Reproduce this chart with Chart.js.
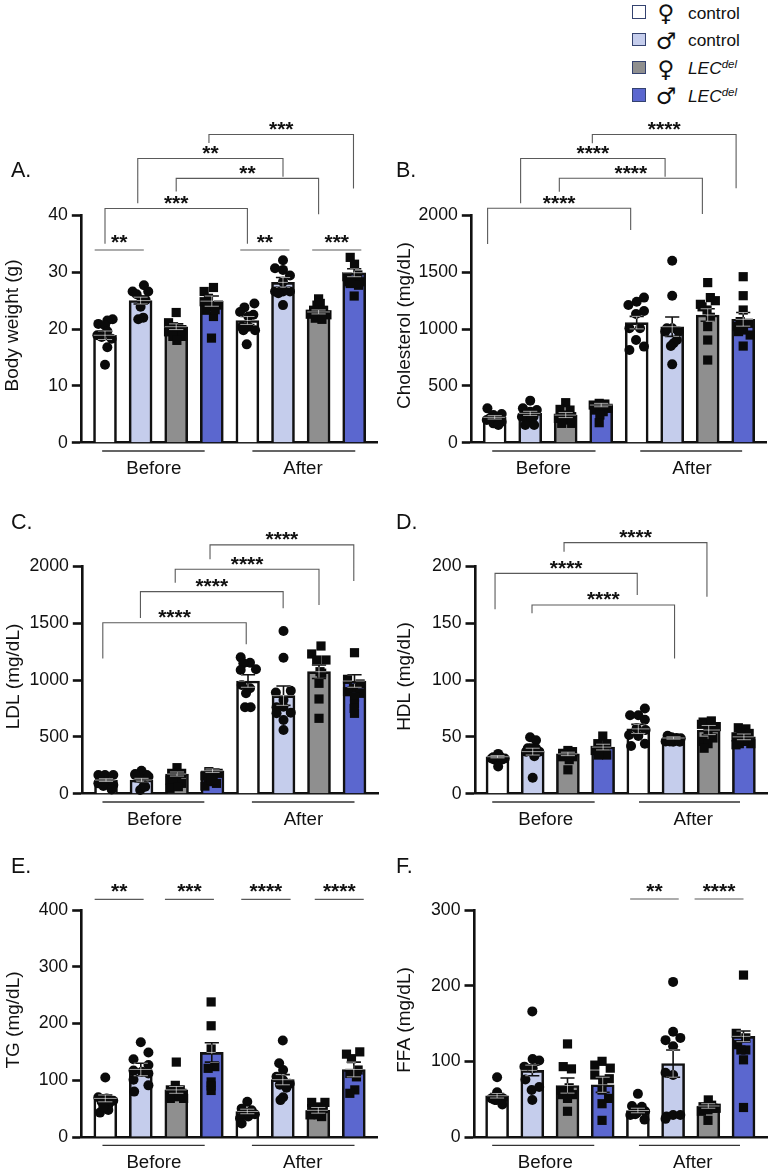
<!DOCTYPE html>
<html>
<head>
<meta charset="utf-8">
<script src="https://cdn.jsdelivr.net/npm/chart.js@4"></script>
<style>
  body { margin: 0; background: #fff; font-family: "Liberation Sans", Arial, sans-serif; color: #111; }
  #page { position: relative; width: 774px; height: 1175px; overflow: hidden; }
  canvas { position: absolute; }
  .tag { position: absolute; font-size: 21.5px; line-height: 24px; }
  .sw { position: absolute; left: 632px; width: 11.5px; height: 11.5px; border: 1.7px solid #34426f; }
  .sym { position: absolute; left: 652px; width: 28px; text-align: center; font-family: "DejaVu Sans"; font-size: 23px; line-height: 26px; }
  .lab { position: absolute; left: 688px; font-size: 17.3px; line-height: 20px; }
  .lab sup { font-size: 11.5px; line-height: 0; vertical-align: 6px; }
</style>
</head>
<body>
<div id="page"></div>
<script>
// ====== DATA ======
const groupLabels = ['Before', 'After'];
const barColors = ['#ffffff', '#c5cdec', '#8f8f8f', '#5b67cf'];
const legendNames = ['control', 'control', 'LEC', 'LEC'];

// means, SEM, points per bar. jitter = sideways offset of each point (1/107 of a bar step)
const meansA = [18.9, 25, 20.4, 24.9, 21.5, 28.2, 23, 29.9];
const errA = [0.75, 0.6, 0.5, 0.9, 0.7, 0.85, 0.35, 0.7];
const dotsA = [
  [21.7, 21.5, 20.9, 20.6, 19.6, 18.9, 18.6, 18.3, 16.8, 13.7],
  [27.7, 26.6, 26.6, 26.1, 25.1, 25.1, 23.9, 22, 21.7],
  [22.9, 21.1, 20.4, 19.9, 19.5, 19.4, 18.7, 18.7, 18],
  [27.3, 26.6, 25.4, 24.8, 24.2, 23.9, 22.2, 18.4, 23.3, 23.4],
  [24.5, 23.8, 23, 22.5, 22.2, 20.4, 20.4, 19.8, 19.8, 17.3],
  [32.1, 30.7, 30.4, 29.4, 28.3, 26.6, 26.6, 26.6, 26.3, 24.2],
  [25.3, 24.2, 24.5, 23.3, 23.3, 22.6, 22.7, 22.5, 21.9, 21.7],
  [32.6, 31.4, 29.2, 29.5, 28.6, 28.3, 28.3, 27.7, 28, 25.8]
];
const jitterA = [
  [23, 7, -20, 0, 7, -23, -10, 20, 7, 0],
  [10, -24, 23, -12, 3, 15, 0, 8, -7],
  [0, -23, -8, 17, -23, 2, 17, -10, 2],
  [5, -23, -10, -23, 20, -5, 5, -1, -17, 10],
  [21, -9, -22, 18, 3, -17, 3, 23, -12, -2],
  [0, -24, 0, 21, 0, -24, 21, 0, -14, 0],
  [0, -5, 5, -15, 15, -25, 0, 25, -10, 10],
  [-12, 1, -22, 11, -2, -17, 18, 13, -12, 0]
];

const meansB = [223, 258, 243, 331, 1056, 1020, 1123, 1085];
const errB = [15, 18, 22, 15, 55, 85, 55, 60];
const dotsB = [
  [302, 243, 252, 214, 199, 185, 199, 170, 155, 214],
  [370, 302, 287, 273, 243, 229, 199, 155, 155, 229],
  [352, 293, 287, 243, 229, 214, 199, 170, 170],
  [346, 331, 340, 316, 302, 287, 273, 243, 176],
  [1276, 1240, 1211, 1158, 1132, 1006, 1006, 903, 845, 815],
  [1601, 1293, 977, 977, 1006, 1006, 903, 874, 850, 689],
  [1408, 1276, 1249, 1217, 1167, 1103, 1021, 903, 727, 1195],
  [1460, 1293, 1167, 1065, 1050, 1021, 991, 977, 947, 850]
];
const jitterB = [
  [-22, -4, 21, -14, 6, 21, -24, -4, 11, -14],
  [0, -22, 20, 0, -15, 10, 0, -15, 12, -25],
  [0, -17, 13, -7, 18, -22, 3, -12, 18],
  [-6, -24, 11, -9, 21, -19, 6, -4, -6],
  [22, 0, -25, 22, -2, -22, 10, -2, 22, -22],
  [0, 0, -21, 19, 0, -16, 14, 4, -4, 0],
  [0, 8, 23, -22, -2, 8, 0, 0, 0, -17],
  [0, 0, 0, -9, 16, -19, 1, -14, 21, 0]
];

const meansC = [120, 120, 173, 202, 991, 862, 1073, 991];
const errC = [12, 15, 18, 15, 55, 85, 60, 55];
const dotsC = [
  [164, 164, 164, 120, 106, 76, 91, 67, 38],
  [202, 173, 164, 135, 164, 150, 62, 32, 62],
  [229, 179, 179, 135, 120, 91, 91, 47, 62],
  [194, 179, 155, 150, 106, 91, 67, 120],
  [1199, 1152, 1147, 1094, 1088, 956, 927, 883, 760, 760],
  [1431, 1196, 889, 906, 824, 760, 765, 713, 707, 648, 560],
  [1299, 1229, 1176, 1176, 1073, 1060, 971, 833, 663],
  [1240, 1006, 965, 927, 897, 883, 850, 789, 707, 750]
];
const jitterC = [
  [-23, -3, 22, -18, 2, 22, -23, -8, 17],
  [0, -19, 16, -4, -19, 21, 6, -4, 11],
  [0, -16, 14, -1, -21, 14, -11, -21, 4],
  [-11, 17, -23, 2, -13, 12, -23, -3],
  [-22, 6, -14, 24, -22, -19, 6, -6, -9, 8],
  [0, 0, -23, 22, 0, -21, 0, 22, -21, 0, 0],
  [6, -22, 21, -7, 3, 8, 0, 0, 0],
  [0, -21, 17, -3, -21, 17, 0, 0, 0, -1]
];

const meansD = [32.5, 37, 35, 41, 57, 49, 56, 50];
const errD = [1, 3, 1.5, 2.5, 4, 1, 4, 2.5];
const dotsD = [
  [35, 31, 31, 30, 30, 32, 33, 24],
  [49.6, 47, 40, 40, 40, 37, 37, 33, 14],
  [38, 35.5, 37, 34, 32.5, 32.5, 30, 21],
  [50.7, 44, 44, 40, 38, 37, 35, 34, 34],
  [75, 69, 69, 65, 57.5, 56, 51.6, 50.7, 44, 42],
  [51, 49.6, 49, 48.7, 46, 45.7, 46, 45.7],
  [63, 64, 61, 59, 56, 49, 46, 44, 40],
  [58, 57, 53, 52, 50, 44, 46, 44, 43]
];
const jitterD = [
  [2, -18, 22, -8, 12, -13, 7, 2],
  [-8, 10, -15, 10, -5, 20, -20, 5, 0],
  [0, -16, 14, -6, 14, -16, 4, 0],
  [-1, -16, 11, -9, -24, 6, -4, 11, -14],
  [20, -25, 0, 20, -5, 22, -28, 0, 20, -22],
  [-18, -6, 9, 22, -24, -1, -11, 19],
  [-17, 8, -22, 23, -2, 13, -17, -2, -14],
  [-17, 6, 16, -9, -24, 21, 1, -14, -24]
];

const meansE = [68, 119, 83, 149, 45, 101, 47, 119];
const errE = [6, 11, 6, 17, 4, 9, 5, 13];
const dotsE = [
  [105, 70, 68, 64, 62, 56, 43, 47.5, 53],
  [167, 149, 137, 127, 117, 115, 112, 101, 91, 80],
  [132, 91, 83, 83, 77, 77, 71, 68, 68],
  [238, 196, 155, 124, 121, 97, 82, 90],
  [62, 50, 47, 42, 40, 36, 33, 24, 42],
  [170, 130, 118, 106, 100, 94, 92, 87, 70, 65],
  [61, 61, 53, 50, 50, 42, 39, 36, 39],
  [150, 146, 138, 112, 118, 106, 83, 77]
];
const jitterE = [
  [0, -21, 4, 24, -11, 9, -16, 9, -6],
  [0, 23, -22, 23, -22, 3, 23, -22, 23, -20],
  [0, -3, -18, 12, -13, 17, 2, -18, 22],
  [-2, -2, -2, 9, -11, -2, -2, -2],
  [0, -17, 13, -7, 23, 3, -22, -17, 3],
  [0, -11, 1, -19, 1, 21, -9, 11, 1, -7],
  [-20, 20, 0, -20, 15, -10, -25, 10, 0],
  [18, -22, -7, -12, 13, 8, 3, -12]
];

const meansF = [54.5, 88, 68, 69, 35, 97, 41, 133];
const errF = [3, 7, 10, 10, 3, 18, 3, 7];
const dotsF = [
  [79, 59, 51, 49, 51, 51, 43, 49],
  [166, 103, 101, 93, 91, 76, 62, 66, 49],
  [123, 93, 90, 65, 56, 56, 51, 62, 34],
  [100, 95, 91, 82, 77, 62, 51, 44, 22, 75],
  [57, 41, 40, 36, 34, 29, 32, 23, 30],
  [205, 139, 131, 128, 120, 85, 82, 27, 29, 29, 24],
  [49, 40, 38, 36, 34, 38, 22, 42],
  [214, 137, 131, 122, 115, 115, 102, 39]
];
const jitterF = [
  [0, 0, -17, -7, 8, 18, 16, -2],
  [0, 1, 21, -24, 1, -21, -2, 21, 0],
  [0, -13, 12, 5, -15, 15, 0, -20, 0],
  [-2, -24, 23, -24, 20, -2, 18, -2, -2, 0],
  [0, -18, 12, -3, 22, -23, -3, 20, -8],
  [0, 0, 22, -23, 0, -23, 0, -20, 0, 22, -23],
  [0, -16, 14, -1, -21, 24, -1, 10],
  [0, -22, 7, -18, 7, -8, 0, 0]
];

// brackets: from x, to x, top y, left foot y, right foot y, stars (x in bar steps, y in axis units)
const bracketsA = [[0, 4, 41.2, 35, 35, '***'], [0.92, 5, 50, 42.1, 46.8, '**'], [2, 6, 46.5, 44.2, 40.2, '**'], [2.92, 6.98, 54.2, 52.7, 44.7, '***']];
const pairsA = [[-0.29, 1.09, 33.9, '**'], [3.8, 5.18, 33.9, '**'], [5.82, 7.2, 33.9, '***']];
const linesA = [[-0.08, 2.8], [4.14, 7.03]];

const bracketsB = [[-0.2, 3.83, 2062, 1748, 1871, '****'], [0.73, 4.8, 2499, 2106, 2340, '****'], [1.82, 5.85, 2326, 2208, 2012, '****'], [2.75, 6.8, 2710, 2634, 2238, '****']];
const pairsB = [];
const linesB = [[-0.07, 2.84], [4.1, 6.97]];

const bracketsC = [[-0.09, 3.95, 1504, 1188, 1314, '****'], [0.97, 4.99, 1777, 1545, 1630, '****'], [1.95, 6, 1974, 1856, 1660, '****'], [2.93, 6.98, 2188, 2062, 1871, '****']];
const pairsC = [];
const linesC = [[-0.1, 2.77], [4.11, 7]];

const bracketsD = [[-0.07, 3.97, 193.8, 162.2, 174.8, '****'], [0.98, 5.03, 166, 158.7, 119, '****'], [1.89, 5.95, 220.8, 212.9, 173.3, '****']];
const pairsD = [];
const linesD = [[-0.15, 2.76], [4.02, 6.89]];

const bracketsE = [];
const pairsE = [[-0.3, 1.08, 418.8, '**'], [1.68, 3.06, 418.8, '***'], [3.83, 5.22, 418.8, '****'], [5.9, 7.28, 418.8, '****']];
const linesE = [[-0.08, 2.8], [4.13, 7.02]];

const bracketsF = [];
const pairsF = [[3.78, 5.16, 314.6, '**'], [5.61, 7, 314.6, '****']];
const linesF = [[-0.14, 2.76], [4.03, 6.9]];

// ====== LAYOUT ======
const CANVAS_W = 387;
const AXIS_H = 38;
const DOT_R = 5;
const SQUARE_R = 6.5;   // chart.js rect side = r * sqrt(2)
const panels = [
  { tag: 'A.', tagX: 11, tagY: 158, title: 'Body weight (g)', titleX: 13, yMax: 40, step: 10, means: meansA, err: errA, dots: dotsA, jit: jitterA, brackets: bracketsA, pairs: pairsA, lines: linesA,
    x: 0, y: 110, h: 380, axisX: 81.3, right: 377.3, top: 215.3, bottom: 442.7, c0: 105, sp: 35.6 },
  { tag: 'B.', tagX: 396, tagY: 158, title: 'Cholesterol (mg/dL)', titleX: 17.5, yMax: 2000, step: 500, means: meansB, err: errB, dots: dotsB, jit: jitterB, brackets: bracketsB, pairs: pairsB, lines: linesB,
    x: 387, y: 110, h: 380, axisX: 471.3, right: 766.7, top: 215.3, bottom: 442.7, c0: 494.7, sp: 35.5 },
  { tag: 'C.', tagX: 11, tagY: 510, title: 'LDL (mg/dL)', titleX: 13.5, yMax: 2000, step: 500, means: meansC, err: errC, dots: dotsC, jit: jitterC, brackets: bracketsC, pairs: pairsC, lines: linesC,
    x: 0, y: 500, h: 340, axisX: 82.3, right: 378, top: 566.3, bottom: 793.7, c0: 106, sp: 35.5 },
  { tag: 'D.', tagX: 396, tagY: 510, title: 'HDL (mg/dL)', titleX: 18, yMax: 200, step: 50, means: meansD, err: errD, dots: dotsD, jit: jitterD, brackets: bracketsD, pairs: pairsD, lines: linesD,
    x: 387, y: 500, h: 340, axisX: 475, right: 770, top: 566.3, bottom: 793.7, c0: 497.7, sp: 35.5 },
  { tag: 'E.', tagX: 11, tagY: 854, title: 'TG (mg/dL)', titleX: 13.5, yMax: 400, step: 100, means: meansE, err: errE, dots: dotsE, jit: jitterE, brackets: bracketsE, pairs: pairsE, lines: linesE,
    x: 0, y: 850, h: 325, axisX: 81.7, right: 377, top: 910, bottom: 1137, c0: 105.3, sp: 35.5 },
  { tag: 'F.', tagX: 396, tagY: 854, title: 'FFA (mg/dL)', titleX: 18, yMax: 300, step: 100, means: meansF, err: errF, dots: dotsF, jit: jitterF, brackets: bracketsF, pairs: pairsF, lines: linesF,
    x: 387, y: 850, h: 325, axisX: 474, right: 770, top: 910, bottom: 1137, c0: 497.3, sp: 35.5 }
];

const page = document.getElementById('page');

// ====== HELPERS ======
function addDiv(cls, left, top, html) {
  const d = document.createElement('div');
  d.className = cls;
  if (left !== null) d.style.left = left + 'px';
  d.style.top = top + 'px';
  d.innerHTML = html;
  page.appendChild(d);
  return d;
}

// polyline pieces -> one line dataset, a null y breaks the path
function pathSet(pieces, color, width, order) {
  const data = [];
  pieces.forEach(p => {
    p.forEach(pt => data.push({ x: pt[0], y: pt[1] }));
    data.push({ x: p[p.length - 1][0], y: null });
  });
  return { type: 'line', data, borderColor: color, borderWidth: width, pointRadius: 0, tension: 0, clip: false, order, borderCapStyle: 'butt' };
}

function pointsFor(p, bars) {
  const pts = [];
  bars.forEach(b => {
    p.dots[b].forEach((v, i) => pts.push({ x: b + p.jit[b][i] / 107, y: v }));
  });
  return pts;
}

function makePanel(p) {
  const canvas = document.createElement('canvas');
  canvas.width = CANVAS_W;
  canvas.height = p.h;
  canvas.style.left = p.x + 'px';
  canvas.style.top = p.y + 'px';
  page.appendChild(canvas);

  const errPieces = [];
  p.means.forEach((m, i) => {
    const hi = m + p.err[i], lo = m - p.err[i];
    errPieces.push([[i, lo], [i, hi]]);
    errPieces.push([[i - 0.2, hi], [i + 0.2, hi]]);
    errPieces.push([[i - 0.2, lo], [i + 0.2, lo]]);
  });

  const yPerPx = p.yMax / (p.bottom - p.top);
  const linePieces = p.lines.map(l => [[l[0], -8.3 * yPerPx], [l[1], -8.3 * yPerPx]]);
  const bracketPieces = p.brackets.map(b => [[b[0], b[3]], [b[0], b[2]], [b[1], b[2]], [b[1], b[4]]]);
  const pairPieces = p.pairs.map(b => [[b[0], b[2]], [b[1], b[2]]]);

  const textPlugin = {
    id: 'panelText',
    afterDatasetsDraw(chart) {
      const { ctx, scales } = chart;
      const X = v => scales.x.getPixelForValue(v);
      const Y = v => scales.y.getPixelForValue(v);

      // bar tops and error bars show faintly white where they cross a marker
      ctx.save();
      ctx.beginPath();
      pointsFor(p, [0, 1, 4, 5]).forEach(pt => {
        ctx.moveTo(X(pt.x) + DOT_R, Y(pt.y));
        ctx.arc(X(pt.x), Y(pt.y), DOT_R, 0, Math.PI * 2);
      });
      const half = SQUARE_R * Math.SQRT1_2;
      pointsFor(p, [2, 3, 6, 7]).forEach(pt => {
        ctx.rect(X(pt.x) - half, Y(pt.y) - half, half * 2, half * 2);
      });
      ctx.clip();
      ctx.strokeStyle = 'rgba(255,255,255,0.75)';
      ctx.lineWidth = 0.8;
      ctx.beginPath();
      errPieces.concat(p.means.map((m, i) => [[i - 0.32, m], [i + 0.32, m]])).forEach(s => {
        ctx.moveTo(X(s[0][0]), Y(s[0][1]));
        ctx.lineTo(X(s[1][0]), Y(s[1][1]));
      });
      ctx.stroke();
      ctx.restore();

      ctx.save();
      ctx.font = 'bold 21px "Liberation Sans"';
      ctx.fillStyle = '#111';
      ctx.textAlign = 'center';
      ctx.textBaseline = 'alphabetic';
      p.brackets.forEach(b => {
        ctx.fillText(b[5], X((b[0] + b[1]) / 2), Y(b[2]) + 1.5);
      });
      p.pairs.forEach(b => {
        ctx.fillText(b[3], X((b[0] + b[1]) / 2), Y(b[2]) - 1);
      });
      ctx.restore();

      // axis title sits a little above the middle of the axis
      ctx.save();
      ctx.font = '19px "Liberation Sans"';
      ctx.fillStyle = '#111';
      ctx.textAlign = 'center';
      ctx.textBaseline = 'middle';
      ctx.translate(p.titleX, (Y(0) + Y(p.yMax)) / 2 - 3.5);
      ctx.rotate(-Math.PI / 2);
      ctx.fillText(p.title, 0, 0);
      ctx.restore();
    }
  };

  new Chart(canvas, {
    type: 'bar',
    data: {
      datasets: [
        { type: 'bar', data: p.means.map((m, i) => ({ x: i, y: m })), backgroundColor: p.means.map((m, i) => barColors[i % 4]),
          borderColor: '#111', borderWidth: 2.6, barThickness: 23, order: 5 },
        { type: 'scatter', data: pointsFor(p, [0, 1, 4, 5]), pointStyle: 'circle', pointRadius: DOT_R, backgroundColor: '#0a0a0a', borderWidth: 0, clip: false, order: 4 },
        { type: 'scatter', data: pointsFor(p, [2, 3, 6, 7]), pointStyle: 'rect', pointRadius: SQUARE_R, backgroundColor: '#0a0a0a', borderWidth: 0, clip: false, order: 3 },
        pathSet(errPieces, '#111', 1.6, 2),
        pathSet(bracketPieces.concat(pairPieces), '#5a5a5a', 1.1, 1),
        pathSet(linePieces, '#333', 1.3, 1)
      ]
    },
    plugins: [textPlugin],
    options: {
      responsive: false,
      animation: false,
      events: [],
      layout: { padding: { left: 0, right: p.x + CANVAS_W - p.right, top: p.top - p.y, bottom: p.h - (p.bottom - p.y) - AXIS_H } },
      plugins: { legend: { display: false }, tooltip: { enabled: false } },
      scales: {
        x: {
          type: 'linear',
          offset: false,
          min: (p.axisX - p.c0) / p.sp,
          max: (p.right - p.c0) / p.sp,
          afterBuildTicks(scale) { scale.ticks = [{ value: 1.37 }, { value: 5.56 }]; },
          afterFit(scale) { scale.height = AXIS_H; },
          grid: { display: false, drawTicks: false },
          border: { display: true, color: '#111', width: 2.6 },
          ticks: {
            autoSkip: false, maxRotation: 0, padding: 15, color: '#111',
            font: { family: '"Liberation Sans"', size: 18.7 },
            callback: v => (v < 3 ? groupLabels[0] : groupLabels[1])
          }
        },
        y: {
          min: 0,
          max: p.yMax,
          afterFit(scale) { scale.width = p.axisX - p.x; },
          grid: { drawOnChartArea: false, drawTicks: true, tickLength: 9.5, tickWidth: 2.6, tickColor: '#111' },
          border: { display: true, color: '#111', width: 2.6 },
          ticks: { stepSize: p.step, padding: 4, color: '#111', font: { family: '"Liberation Sans"', size: 17.7 }, callback: v => String(v) }
        }
      }
    }
  });

  addDiv('tag', p.tagX, p.tagY, p.tag);
}

panels.forEach(makePanel);

// ====== LEGEND ======
const legendTop = [5, 32.5, 60.5, 88];
const symbols = ['\u2640', '\u2642', '\u2640', '\u2642'];
legendNames.forEach((name, i) => {
  const sw = addDiv('sw', null, legendTop[i], '');
  sw.style.background = barColors[i];
  addDiv('sym', null, legendTop[i] - 5, symbols[i]);
  addDiv('lab', null, legendTop[i] - 2.5, name === 'LEC' ? '<i>LEC<sup>del</sup></i>' : name);
});
</script>
</body>
</html>
